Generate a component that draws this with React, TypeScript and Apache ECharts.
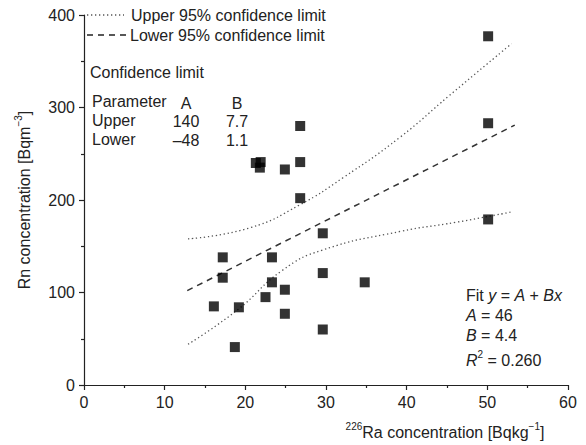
import React, { useEffect, useRef } from "react";
import * as echarts from "echarts";

const pointX = [16.1, 17.2, 17.2, 18.7, 19.2, 21.3, 21.9, 21.8, 22.5, 23.3, 23.3, 24.9, 24.9, 24.9, 26.8, 26.8, 26.8, 29.6, 29.6, 29.6, 34.8, 50.1, 50.1, 50.1];
const pointY = [85, 138, 116, 41, 84, 240, 241, 235, 95, 138, 111, 233, 103, 77, 280, 241, 202, 164, 121, 60, 111, 377, 283, 179];

const fitX = [12.8, 53.4];
const fitY = [102, 281];

const upperX = [12.9, 20.6, 26.8, 32.1, 39.2, 45.3, 53.0];
const upperY = [158, 170, 195, 224, 268, 313, 369];

const lowerX = [12.9, 19.0, 24.6, 29.6, 39.2, 46.2, 53.0];
const lowerY = [44, 81, 124, 146, 166, 176, 187];

const legendLabels = ["Upper 95% confidence limit", "Lower 95% confidence limit"];
const tableTitle = "Confidence limit";
const tableHeader = ["Parameter", "A", "B"];
const tableRows = [
  ["Upper", "140", "7.7"],
  ["Lower", "\u201348", "1.1"],
];
const fitA = "46";
const fitB = "4.4";
const fitR2 = "0.260";

const FONT = "'Liberation Sans', Arial, Helvetica, sans-serif";
const INK = "#222";

const zip = (xs: number[], ys: number[]) => xs.map((x, i) => [x, ys[i]]);

export default function App() {
  const ref = useRef<HTMLDivElement>(null);
  useEffect(() => {
    if (!ref.current) return;
    const chart = echarts.init(ref.current, undefined, { renderer: "svg" });
    const base = { fontFamily: FONT, fontSize: 16, fill: INK };
    const rich = {
      n: { fontFamily: FONT, fontSize: 16, color: INK, lineHeight: 22 },
      i: { fontFamily: FONT, fontSize: 16, color: INK, fontStyle: "italic", lineHeight: 22 },
      s: { fontFamily: FONT, fontSize: 10, color: INK, lineHeight: 12, verticalAlign: "top" },
    };
    const colA = 186;
    const colB = 237;
    const rowY = [101, 120, 139];
    const graphics: any[] = [
      // legend
      { type: "line", shape: { x1: 87, y1: 15, x2: 124, y2: 15 }, style: { stroke: "#555", lineWidth: 1.3, lineDash: [1.3, 2.7] } },
      { type: "text", x: 131, y: 15, style: { ...base, text: legendLabels[0], verticalAlign: "middle" } },
      { type: "line", shape: { x1: 87, y1: 35, x2: 128, y2: 35 }, style: { stroke: "#222", lineWidth: 1.6, lineDash: [6, 5] } },
      { type: "text", x: 130, y: 35, style: { ...base, text: legendLabels[1], verticalAlign: "middle" } },
      // table
      { type: "text", x: 90, y: 72, style: { ...base, text: tableTitle, verticalAlign: "middle" } },
      { type: "text", x: 92, y: rowY[0], style: { ...base, text: tableHeader[0], verticalAlign: "middle" } },
      { type: "text", x: colA, y: rowY[0] + 2, style: { ...base, text: tableHeader[1], align: "center", verticalAlign: "middle" } },
      { type: "text", x: colB, y: rowY[0] + 2, style: { ...base, text: tableHeader[2], align: "center", verticalAlign: "middle" } },
    ];
    tableRows.forEach((r, k) => {
      const y = rowY[k + 1];
      graphics.push({ type: "text", x: 92, y, style: { ...base, text: r[0], verticalAlign: "middle" } });
      graphics.push({ type: "text", x: colA, y: y + 1, style: { ...base, text: r[1], align: "center", verticalAlign: "middle" } });
      graphics.push({ type: "text", x: colB, y: y + 1, style: { ...base, text: r[2], align: "center", verticalAlign: "middle" } });
    });
    // fit text
    const fitLines = [
      "{n|Fit }{i|y}{n| = }{i|A}{n| + }{i|Bx}",
      `{i|A}{n| = ${fitA}}`,
      `{i|B}{n| = ${fitB}}`,
      `{i|R}{s|2}{n| = ${fitR2}}`,
    ];
    const fitYs = [295, 315, 335, 360];
    fitLines.forEach((t, k) => {
      graphics.push({ type: "text", x: 466, y: fitYs[k], style: { text: t, rich, verticalAlign: "middle", fontFamily: FONT, fontSize: 16, fill: INK } });
    });
    // axis names
    graphics.push({
      type: "text",
      x: 445,
      y: 432,
      style: { text: "{s|226}{n|Ra concentration [Bqkg}{s|\u22121}{n|]}", rich, align: "center", verticalAlign: "middle", fontFamily: FONT, fontSize: 16, fill: INK },
    });
    graphics.push({
      type: "text",
      x: 24,
      y: 200,
      rotation: Math.PI / 2,
      style: { text: "{n|Rn concentration [Bqm}{s|\u22123}{n|]}", rich, align: "center", verticalAlign: "middle", fontFamily: FONT, fontSize: 16, fill: INK },
    });

    const axisCommon = {
      type: "value" as const,
      splitLine: { show: false },
      axisLine: { show: true, lineStyle: { color: INK, width: 1.2 } },
      axisTick: { show: true, length: 5, lineStyle: { color: INK, width: 1.2 } },
      minorTick: { show: true, splitNumber: 2, length: 3, lineStyle: { color: INK, width: 1.2 } },
      axisLabel: { fontFamily: FONT, fontSize: 16, color: INK, margin: 9 },
    };

    chart.setOption({
      animation: false,
      backgroundColor: "#fff",
      grid: { left: 84, top: 15, width: 484, height: 370, containLabel: false },
      xAxis: { ...axisCommon, min: 0, max: 60, interval: 10 },
      yAxis: { ...axisCommon, min: 0, max: 400, interval: 100 },
      graphic: graphics,
      series: [
        {
          type: "line",
          data: zip(upperX, upperY),
          smooth: true,
          showSymbol: false,
          lineStyle: { color: "#555", width: 1.3, type: [1.3, 2.7] },
          z: 2,
        },
        {
          type: "line",
          data: zip(lowerX, lowerY),
          smooth: true,
          showSymbol: false,
          lineStyle: { color: "#555", width: 1.3, type: [1.3, 2.7] },
          z: 2,
        },
        {
          type: "line",
          data: zip(fitX, fitY),
          showSymbol: false,
          lineStyle: { color: "#333", width: 1.5, type: [6, 5] },
          z: 2,
        },
        {
          type: "scatter",
          data: zip(pointX, pointY),
          symbol: "rect",
          symbolSize: 10,
          itemStyle: { color: "#000" },
          z: 3,
        },
      ],
    });
    return () => chart.dispose();
  }, []);
  return <div ref={ref} style={{ width: 586, height: 445, position: "absolute", left: 0, top: 0 }} />;
}
